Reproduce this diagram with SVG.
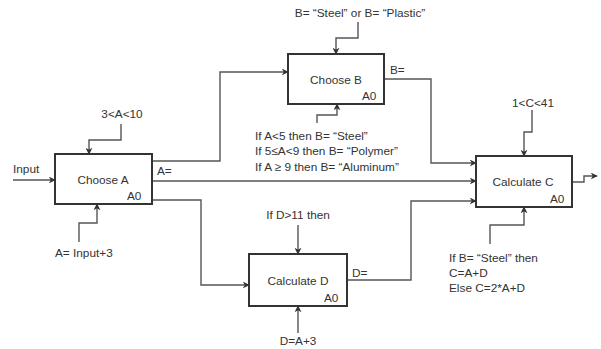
<svg xmlns="http://www.w3.org/2000/svg" width="601" height="349" viewBox="0 0 601 349">
<style>
text{font-family:"Liberation Sans",Arial,sans-serif;font-size:11.8px;fill:#333}
.box{fill:#fff;stroke:#333;stroke-width:2}
.c{fill:none;stroke:#555;stroke-width:1.4}
.m{text-anchor:middle}
</style>
<defs>
<marker id="ah" viewBox="0 0 10 10" refX="9" refY="5" markerWidth="7" markerHeight="7" markerUnits="userSpaceOnUse" orient="auto">
<path d="M0,0 L10,5 L0,10 L3,5 z" fill="#333"/>
</marker>
</defs>
<rect width="601" height="349" fill="#fff"/>
<g id="connectors">
<path class="c" marker-end="url(#ah)" d="M13,180 H55"/>
<path class="c" marker-end="url(#ah)" d="M121,124 V140 H89 V154"/>
<path class="c" marker-end="url(#ah)" d="M79,242 V223 H97 V204"/>
<path class="c" marker-end="url(#ah)" d="M152,161 H220 V72 H288"/>
<path class="c" marker-end="url(#ah)" d="M152,181 H476"/>
<path class="c" marker-end="url(#ah)" d="M152,200 H201 V285 H249"/>
<path class="c" marker-end="url(#ah)" d="M358,22 V38 H336 V54"/>
<path class="c" marker-end="url(#ah)" d="M317,123 V115 H337 V104"/>
<path class="c" marker-end="url(#ah)" d="M384,79 H431 V163 H476"/>
<path class="c" marker-end="url(#ah)" d="M298,225 V254"/>
<path class="c" marker-end="url(#ah)" d="M298,333 V306"/>
<path class="c" marker-end="url(#ah)" d="M347,280 H411 V201 H476"/>
<path class="c" marker-end="url(#ah)" d="M532,110 V132 H524 V156"/>
<path class="c" marker-end="url(#ah)" d="M490,244 V225 H524 V207"/>
<path class="c" marker-end="url(#ah)" d="M572,182 H584 V176 H597"/>
</g>
<g id="chooseA">
<rect class="box" x="55" y="154" width="97" height="50"/>
<text class="m" x="103" y="184">Choose A</text>
<text x="127" y="200">A0</text>
</g>
<g id="chooseB">
<rect class="box" x="288" y="54" width="96" height="50"/>
<text class="m" x="336" y="84">Choose B</text>
<text x="362" y="100">A0</text>
</g>
<g id="calcD">
<rect class="box" x="249" y="254" width="98" height="52"/>
<text class="m" x="298" y="285">Calculate D</text>
<text x="324" y="302">A0</text>
</g>
<g id="calcC">
<rect class="box" x="476" y="156" width="96" height="51"/>
<text class="m" x="523" y="186">Calculate C</text>
<text x="550" y="203">A0</text>
</g>
<g id="labels">
<text x="13" y="173">Input</text>
<text class="m" x="122" y="118">3&lt;A&lt;10</text>
<text x="55" y="257">A= Input+3</text>
<text x="157" y="175">A=</text>
<text class="m" x="360" y="17">B= “Steel” or B= “Plastic”</text>
<text x="390" y="74">B=</text>
<text x="255" y="140">If A&lt;5 then B= “Steel”</text>
<text x="255" y="155">If 5≤A&lt;9 then B= “Polymer”</text>
<text x="255" y="171">If A ≥ 9 then B=  “Aluminum”</text>
<text class="m" x="298" y="219">If D&gt;11 then</text>
<text x="352" y="277">D=</text>
<text class="m" x="298" y="345">D=A+3</text>
<text class="m" x="533" y="107">1&lt;C&lt;41</text>
<text x="449" y="262">If B= “Steel” then</text>
<text x="449" y="277">C=A+D</text>
<text x="449" y="292">Else C=2*A+D</text>
</g>
</svg>
